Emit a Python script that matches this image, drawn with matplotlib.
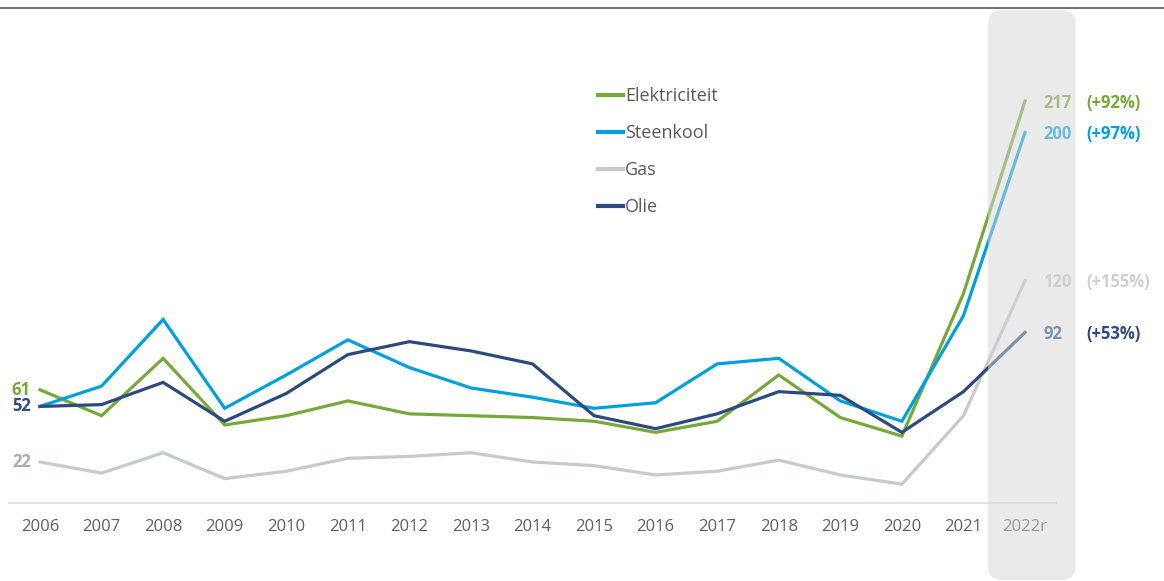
import matplotlib.pyplot as plt
from matplotlib.patches import FancyBboxPatch
import numpy as np

years = ['2006', '2007', '2008', '2009', '2010', '2011', '2012', '2013', '2014',
         '2015', '2016', '2017', '2018', '2019', '2020', '2021', '2022r']
elektriciteit = [61, 47, 78, 42, 47, 55, 48, 47, 46, 44, 38, 44, 69, 46, 36, 113, 217]
steenkool = [52, 63, 99, 51, 69, 88, 73, 62, 57, 51, 54, 75, 78, 55, 44, 101, 200]
gas = [22, 16, 27, 13, 17, 24, 25, 27, 22, 20, 15, 17, 23, 15, 10, 47, 120]
olie = [52, 53, 65, 44, 59, 80, 87, 82, 75, 47, 40, 48, 60, 58, 38, 60, 92]
pct_labels = ['(+92%)', '(+97%)', '(+155%)', '(+53%)']

names = ['Elektriciteit', 'Steenkool', 'Gas', 'Olie']
series = [elektriciteit, steenkool, gas, olie]
colors = ['#77a83a', '#00a0dc', '#c5cbcb', '#2c4a7c']
pct_colors = ['#77a83a', '#00a0dc', '#cfcfcf', '#2c4a7c']

plt.rcParams['font.family'] = ['Open Sans', 'DejaVu Sans']
W, H = 1164, 581
fig = plt.figure(figsize=(W / 100, H / 100), dpi=100)
# axes placed so that x=2006..2022 and y=0 land where the reference has them
ax = fig.add_axes([9.2 / W, 78.3 / H, 1046.6 / W, 230 * 1.851 / H])
x = np.arange(len(years))
ax.set_xlim(-0.5, len(years) - 0.5)
ax.set_ylim(0, 230)

for name, vals, c in zip(names, series, colors):
    ax.plot(x, vals, color=c, lw=2.3, label=name, zorder=3, solid_joinstyle='miter')

# left start labels
ax.text(-0.15, elektriciteit[0], str(elektriciteit[0]), color=colors[0], fontsize=12,
        fontweight='bold', ha='right', va='center')
ax.text(-0.15, olie[0], str(olie[0]), color=colors[3], fontsize=12,
        fontweight='bold', ha='right', va='center')
ax.text(-0.15, gas[0], str(gas[0]), color='#a8adad', fontsize=12,
        fontweight='bold', ha='right', va='center')

# right end labels
for vals, c, pl, pc in zip(series, colors, pct_labels, pct_colors):
    ax.text(len(years) - 1 + 0.3, vals[-1] - 1, str(vals[-1]), color=c, fontsize=12,
            fontweight='bold', ha='left', va='center', zorder=2)
    ax.text(len(years) - 1 + 1.0, vals[-1] - 1, pl, color=pc, fontsize=12,
            fontweight='bold', ha='left', va='center', zorder=6)

ax.set_xticks(x)
ax.set_xticklabels(years, color='#5f5f5f', fontsize=12)
ax.tick_params(axis='x', length=0, pad=12)
ax.set_yticks([])
for s in ['top', 'right', 'left']:
    ax.spines[s].set_visible(False)
ax.spines['bottom'].set_color('#e3e3e3')
ax.spines['bottom'].set_linewidth(1.5)
ax.patch.set_visible(False)

# shaded band for 2022r, drawn on top so it fades what is under it
fig.canvas.draw()
x0 = ax.transData.transform((len(years) - 1 - 0.6, 0))[0]
x1 = ax.transData.transform((len(years) - 1 + 0.82, 0))[0]
band = FancyBboxPatch((x0, 1), x1 - x0, H - 11, boxstyle='round,pad=0,rounding_size=14',
                      transform=None, facecolor='#d6d6d6', edgecolor='none',
                      alpha=0.5, zorder=5)
fig.patches.append(band)
band.set_figure(fig)

# top rule
fig.add_artist(plt.Line2D([0, 1], [1 - 8 / H, 1 - 8 / H], color='#555555', lw=1.2))

leg = ax.legend(loc='upper left', bbox_to_anchor=(589 / W, 1 - 78 / H),
                bbox_transform=fig.transFigure, frameon=False, fontsize=13,
                handlelength=1.4, handletextpad=0.1, labelspacing=1.05,
                borderpad=0)
for t in leg.get_texts():
    t.set_color('#595959')
for l in leg.get_lines():
    l.set_linewidth(3)

fig.savefig('out.png', dpi=100)
